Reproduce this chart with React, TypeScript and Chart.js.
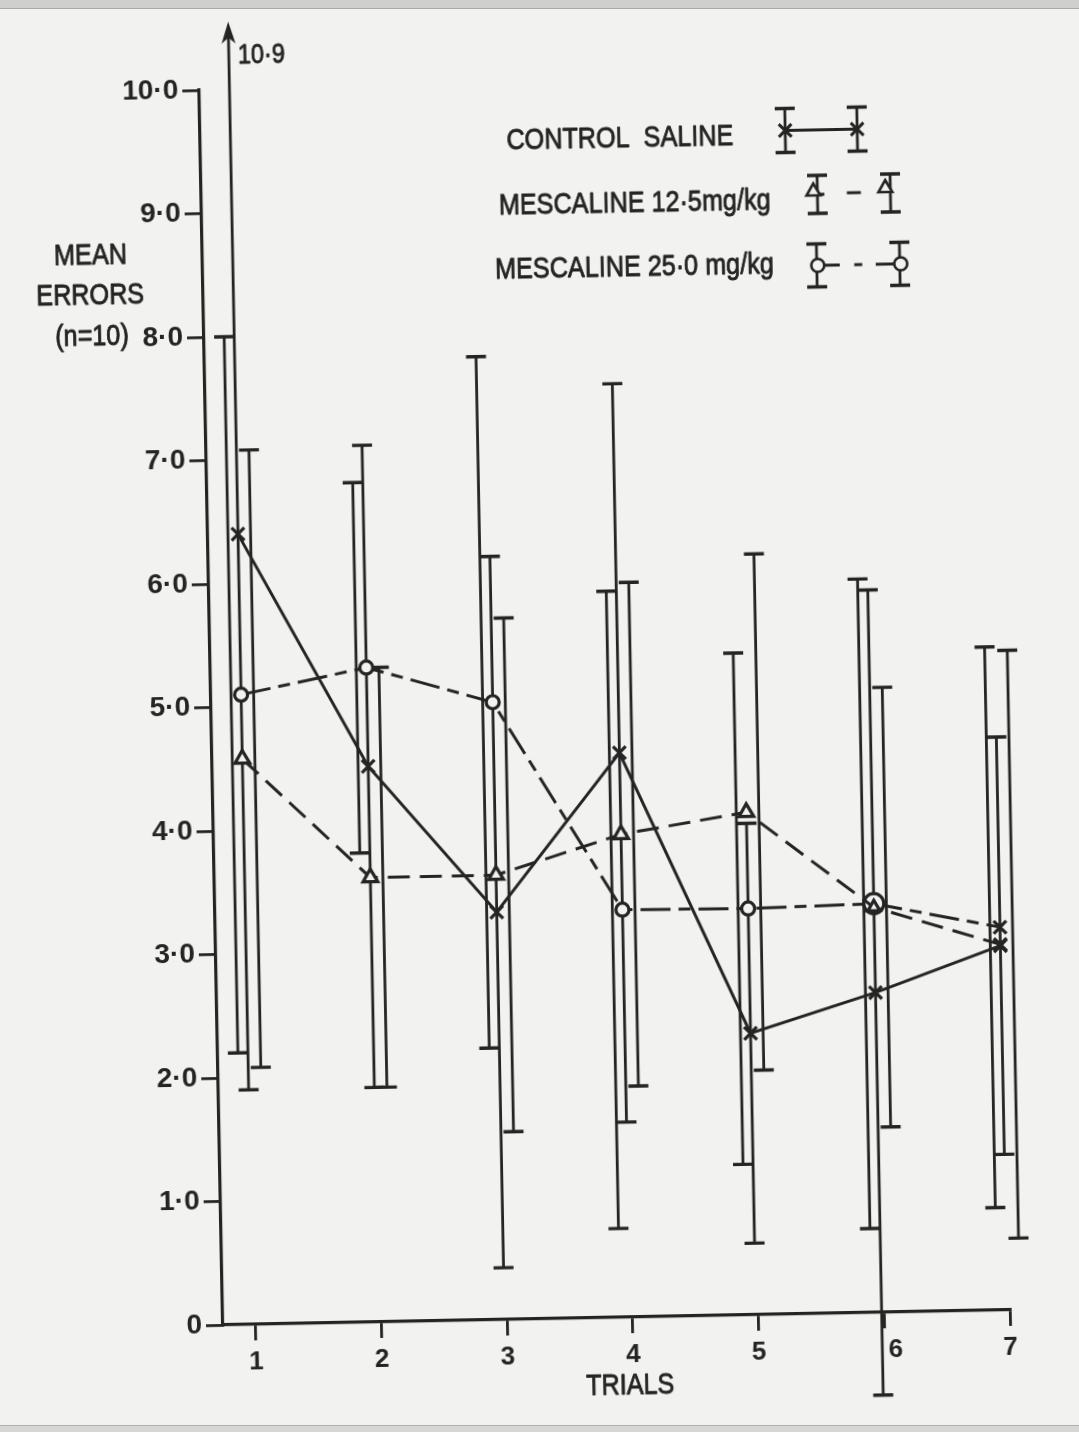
import { useEffect, useRef } from 'react';
import { Chart, registerables } from 'chart.js';

Chart.register(...registerables);

// Trials along the x axis
const TRIALS = [1, 2, 3, 4, 5, 6, 7];
const TRIAL_LABELS = ['1', '2', '3', '4', '5', '6', '7'];

// Mean-error axis ticks
const ERROR_TICKS = [0, 1, 2, 3, 4, 5, 6, 7, 8, 9, 10];

// Group means and ± deviations, one value per trial
const SALINE_MEAN = [6.4, 4.5, 3.3, 4.57, 2.28, 2.59, 2.95];
const SALINE_SD = [4.5, 2.6, 2.88, 2.99, 1.7, 3.26, 1.69];
const MESC_12_5_MEAN = [4.58, 3.6, 3.6, 3.91, 4.07, 3.28, 2.96];
const MESC_12_5_SD = [2.5, 1.7, 2.08, 2.04, 2.09, 1.78, 2.38];
const MESC_25_0_MEAN = [5.1, 5.3, 5.0, 3.3, 3.29, 3.31, 3.1];
const MESC_25_0_SD = [2.9, 1.5, 2.8, 2.58, 2.07, 2.63, 2.27];

const SERIES_NAMES = ['CONTROL  SALINE', 'MESCALINE 12·5mg/kg', 'MESCALINE 25·0 mg/kg'];
const Y_TITLE_LINES = ['MEAN', 'ERRORS', '(n=10)'];
const X_TITLE = 'TRIALS';

// ---- styling -------------------------------------------------------------
const INK = '#242424';
const PAPER = '#f2f2f0';
const FONT = '"Liberation Sans", Arial, sans-serif';
// stencil-style lettering: narrow, slightly heavy
const LETTER_SQUEEZE = 0.84;
const LETTER_WEIGHT = 0.9;

const X_MIN = 0.74;
const X_MAX = 7;
const Y_MIN = 0;
const Y_MAX = 10;
// a bar running past the top of the axis is cut here and drawn as an arrow
const ARROW_TOP = 10.55;

// horizontal nudges inside each trial group (in trial units)
const MARKER_SHIFT = -0.02;
const BAR_SHIFT = [-0.02, 0.08, -0.1];
const CAP_HALF = 10;

const SALINE_POINTS = ['crossRot', 'crossRot', 'crossRot', 'crossRot', 'crossRot', 'crossRot', 'crossRot'];
const MESC_12_5_POINTS = ['triangle', 'triangle', 'triangle', 'triangle', 'triangle', 'triangle', 'crossRot'];
const MESC_25_0_POINTS = ['circle', 'circle', 'circle', 'circle', 'circle', 'circle', 'crossRot'];
const MESC_25_0_RADII = [6.5, 6.5, 6.5, 6.5, 6.5, 10, 9];
const MESC_12_5_RADII = [8.5, 8.5, 8.5, 8.5, 8.5, 7, 9];

type Series = {
  name: string;
  mean: number[];
  sd: number[];
  points: string[];
  radii: number | number[];
  dash: number[];
};

const SERIES: Series[] = [
  { name: SERIES_NAMES[0], mean: SALINE_MEAN, sd: SALINE_SD, points: SALINE_POINTS, radii: 9, dash: [] },
  { name: SERIES_NAMES[1], mean: MESC_12_5_MEAN, sd: MESC_12_5_SD, points: MESC_12_5_POINTS, radii: MESC_12_5_RADII, dash: [22, 10] },
  { name: SERIES_NAMES[2], mean: MESC_25_0_MEAN, sd: MESC_25_0_SD, points: MESC_25_0_POINTS, radii: MESC_25_0_RADII, dash: [30, 8, 12, 8] },
];

// legend rows: text right edge, text centre, sample bar positions
const LEGEND_ROWS = [
  { textRight: 756, textY: 147, barL: 808, barR: 880, y: 141.5, half: 22 },
  { textRight: 792, textY: 212, barL: 839, barR: 912, y: 206, half: 19 },
  { textRight: 794, textY: 276, barL: 837, barR: 920, y: 277, half: 21.5 },
];
const Y_TITLE_POS = [
  { x: 111, y: 254 },
  { x: 110, y: 294 },
  { x: 111, y: 335 },
];
const X_TITLE_POS = { x: 629, y: 1394 };

const fmt = (v: number) => v.toFixed(1).replace('.', '·');

// narrow, heavy lettering drawn straight onto the canvas
function letter(
  ctx: CanvasRenderingContext2D,
  text: string,
  x: number,
  y: number,
  align: CanvasTextAlign,
  size: number,
) {
  ctx.save();
  ctx.translate(x, y);
  ctx.scale(LETTER_SQUEEZE, 1);
  ctx.font = `${size}px ${FONT}`;
  ctx.textAlign = align;
  ctx.textBaseline = 'middle';
  ctx.fillStyle = INK;
  ctx.strokeStyle = INK;
  ctx.lineWidth = LETTER_WEIGHT;
  ctx.lineJoin = 'round';
  ctx.fillText(text, 0, 0);
  ctx.strokeText(text, 0, 0);
  ctx.restore();
}

function drawCross(ctx: CanvasRenderingContext2D, x: number, y: number, r: number) {
  const d = r * Math.SQRT1_2;
  ctx.beginPath();
  ctx.moveTo(x - d, y - d);
  ctx.lineTo(x + d, y + d);
  ctx.moveTo(x + d, y - d);
  ctx.lineTo(x - d, y + d);
  ctx.stroke();
}

function drawTriangle(ctx: CanvasRenderingContext2D, x: number, y: number, r: number) {
  ctx.beginPath();
  ctx.moveTo(x, y - r);
  ctx.lineTo(x + r * 0.866, y + r * 0.5);
  ctx.lineTo(x - r * 0.866, y + r * 0.5);
  ctx.closePath();
  ctx.fillStyle = PAPER;
  ctx.fill();
  ctx.stroke();
}

function drawCircle(ctx: CanvasRenderingContext2D, x: number, y: number, r: number) {
  ctx.beginPath();
  ctx.arc(x, y, r, 0, Math.PI * 2);
  ctx.fillStyle = PAPER;
  ctx.fill();
  ctx.stroke();
}

function drawSampleBar(ctx: CanvasRenderingContext2D, x: number, y: number, half: number) {
  ctx.lineWidth = 2.8;
  ctx.beginPath();
  ctx.moveTo(x, y - half);
  ctx.lineTo(x, y + half);
  ctx.stroke();
  ctx.lineWidth = 3.4;
  ctx.beginPath();
  ctx.moveTo(x - CAP_HALF, y - half);
  ctx.lineTo(x + CAP_HALF, y - half);
  ctx.moveTo(x - CAP_HALF, y + half);
  ctx.lineTo(x + CAP_HALF, y + half);
  ctx.stroke();
}

// ± deviation bars for every group at every trial
const errorBarPlugin = {
  id: 'errorBars',
  beforeDatasetsDraw(chart: any) {
    const { ctx, scales } = chart;
    const xs = scales.x;
    const ys = scales.y;
    ctx.save();
    ctx.strokeStyle = INK;
    ctx.fillStyle = INK;
    ctx.lineCap = 'butt';
    SERIES.forEach((s, si) => {
      s.mean.forEach((m, i) => {
        const px = xs.getPixelForValue(TRIALS[i] + BAR_SHIFT[si]);
        const hi = m + s.sd[i];
        const lo = m - s.sd[i];
        const over = hi > Y_MAX;
        const yTop = ys.getPixelForValue(over ? ARROW_TOP : hi);
        const yBot = ys.getPixelForValue(lo);
        ctx.lineWidth = 2.8;
        ctx.beginPath();
        ctx.moveTo(px, yBot);
        ctx.lineTo(px, over ? yTop + 12 : yTop);
        ctx.stroke();
        ctx.lineWidth = 3.4;
        ctx.beginPath();
        ctx.moveTo(px - CAP_HALF, yBot);
        ctx.lineTo(px + CAP_HALF, yBot);
        if (!over) {
          ctx.moveTo(px - CAP_HALF, yTop);
          ctx.lineTo(px + CAP_HALF, yTop);
        }
        ctx.stroke();
        if (over) {
          ctx.beginPath();
          ctx.moveTo(px, yTop);
          ctx.lineTo(px + 7, yTop + 22);
          ctx.lineTo(px, yTop + 16);
          ctx.lineTo(px - 7, yTop + 22);
          ctx.closePath();
          ctx.fill();
          letter(ctx, fmt(hi), px + 9, yTop + 34, 'left', 28);
        }
      });
    });
    ctx.restore();
  },
};

// horizontal axis captions and the key
const annotationPlugin = {
  id: 'annotations',
  afterDraw(chart: any) {
    const { ctx } = chart;
    ctx.save();
    ctx.fillStyle = INK;
    ctx.strokeStyle = INK;
    Y_TITLE_LINES.forEach((t, i) => letter(ctx, t, Y_TITLE_POS[i].x, Y_TITLE_POS[i].y, 'center', 30));
    letter(ctx, X_TITLE, X_TITLE_POS.x, X_TITLE_POS.y, 'center', 30);

    LEGEND_ROWS.forEach((row, i) => {
      const s = SERIES[i];
      letter(ctx, s.name, row.textRight, row.textY, 'right', 30);
      ctx.strokeStyle = INK;
      drawSampleBar(ctx, row.barL, row.y, row.half);
      drawSampleBar(ctx, row.barR, row.y, row.half);
      ctx.lineWidth = 3;
      const mid = (row.barL + row.barR) / 2;
      if (i === 0) {
        ctx.beginPath();
        ctx.moveTo(row.barL, row.y);
        ctx.lineTo(row.barR, row.y);
        ctx.stroke();
        drawCross(ctx, row.barL, row.y, 9);
        drawCross(ctx, row.barR, row.y, 9);
      } else if (i === 1) {
        ctx.beginPath();
        ctx.moveTo(row.barL, row.y);
        ctx.lineTo(row.barL + 7, row.y);
        ctx.moveTo(mid - 7, row.y - 1);
        ctx.lineTo(mid + 7, row.y - 1);
        ctx.moveTo(row.barR - 7, row.y - 2);
        ctx.lineTo(row.barR, row.y - 2);
        ctx.stroke();
        ctx.lineWidth = 2.6;
        drawTriangle(ctx, row.barL - 4, row.y - 3, 8);
        drawTriangle(ctx, row.barR - 5, row.y - 5, 8);
      } else {
        ctx.beginPath();
        ctx.moveTo(row.barL + 7, row.y);
        ctx.lineTo(row.barL + 23, row.y);
        ctx.moveTo(mid - 4, row.y);
        ctx.lineTo(mid + 4, row.y);
        ctx.moveTo(row.barR - 24, row.y);
        ctx.lineTo(row.barR - 6, row.y);
        ctx.stroke();
        ctx.lineWidth = 2.6;
        drawCircle(ctx, row.barL + 1, row.y, 6.5);
        drawCircle(ctx, row.barR + 1, row.y, 6.5);
      }
    });
    ctx.restore();
  },
};

// trial 6's label sits clear of the long saline bar that crosses the axis there
const X_LABEL_PAD: Record<number, string> = { 6: '   ' };

export default function App() {
  const canvasRef = useRef<HTMLCanvasElement>(null);

  useEffect(() => {
    const prevMargin = document.body.style.margin;
    document.body.style.margin = '0';
    const canvas = canvasRef.current;
    if (!canvas) return;

    const chart = new Chart(canvas, {
      type: 'line',
      data: {
        datasets: SERIES.map((s) => ({
          label: s.name,
          data: TRIALS.map((t, i) => ({ x: t + MARKER_SHIFT, y: s.mean[i] })),
          borderColor: INK,
          borderWidth: 3,
          borderDash: s.dash,
          tension: 0,
          fill: false,
          clip: false,
          pointStyle: s.points as any,
          pointRadius: s.radii as any,
          pointBorderColor: INK,
          pointBackgroundColor: PAPER,
          pointBorderWidth: 3.2,
        })),
      },
      options: {
        animation: false,
        responsive: false,
        devicePixelRatio: 1,
        events: [],
        layout: { padding: { left: 93, top: 90, right: 69, bottom: 21 } },
        plugins: {
          legend: { display: false },
          tooltip: { enabled: false },
        },
        scales: {
          x: {
            type: 'linear',
            min: X_MIN,
            max: X_MAX,
            afterBuildTicks: (scale: any) => {
              scale.ticks = TRIALS.map((v) => ({ value: v }));
            },
            afterFit: (scale: any) => {
              scale.height = 86;
            },
            grid: { drawOnChartArea: false, drawTicks: true, tickLength: 16, color: INK, lineWidth: 2.8 },
            border: { display: true, color: INK, width: 3.2 },
            ticks: {
              color: INK,
              font: { family: FONT, size: 26, weight: 'bold' },
              padding: 6,
              autoSkip: false,
              maxRotation: 0,
              callback: (v: any) => {
                const i = TRIALS.indexOf(Number(v));
                if (i < 0) return '';
                return (X_LABEL_PAD[TRIALS[i]] || '') + TRIAL_LABELS[i];
              },
            },
          },
          y: {
            type: 'linear',
            min: Y_MIN,
            max: Y_MAX,
            afterBuildTicks: (scale: any) => {
              scale.ticks = ERROR_TICKS.map((v) => ({ value: v }));
            },
            afterFit: (scale: any) => {
              scale.width = 130;
            },
            grid: { drawOnChartArea: false, drawTicks: true, tickLength: 17, color: INK, lineWidth: 2.8 },
            border: { display: true, color: INK, width: 3.2 },
            ticks: {
              color: INK,
              font: { family: FONT, size: 28, weight: 'bold' },
              padding: 4,
              callback: (v: any) => (Number(v) === 0 ? '0' : fmt(Number(v))),
            },
          },
        },
      },
      plugins: [errorBarPlugin, annotationPlugin],
    });

    return () => {
      chart.destroy();
      document.body.style.margin = prevMargin;
    };
  }, []);

  return (
    <div style={{ position: 'relative', width: 1079, height: 1432, overflow: 'hidden', background: PAPER }}>
      <canvas
        ref={canvasRef}
        width={1079}
        height={1432}
        style={{
          position: 'absolute',
          left: 0,
          top: 0,
          width: 1079,
          height: 1432,
          transform: 'rotate(-1.1deg)',
          transformOrigin: '223px 1325px',
        }}
      />
      <div style={{ position: 'absolute', left: 0, top: 0, width: '100%', height: 8, background: '#cfcfcd', borderBottom: '1px solid #a9a9a7' }} />
      <div style={{ position: 'absolute', left: 0, top: 1425, width: '100%', height: 7, background: '#d6d6d4', borderTop: '1px solid #b0b0ae' }} />
    </div>
  );
}
